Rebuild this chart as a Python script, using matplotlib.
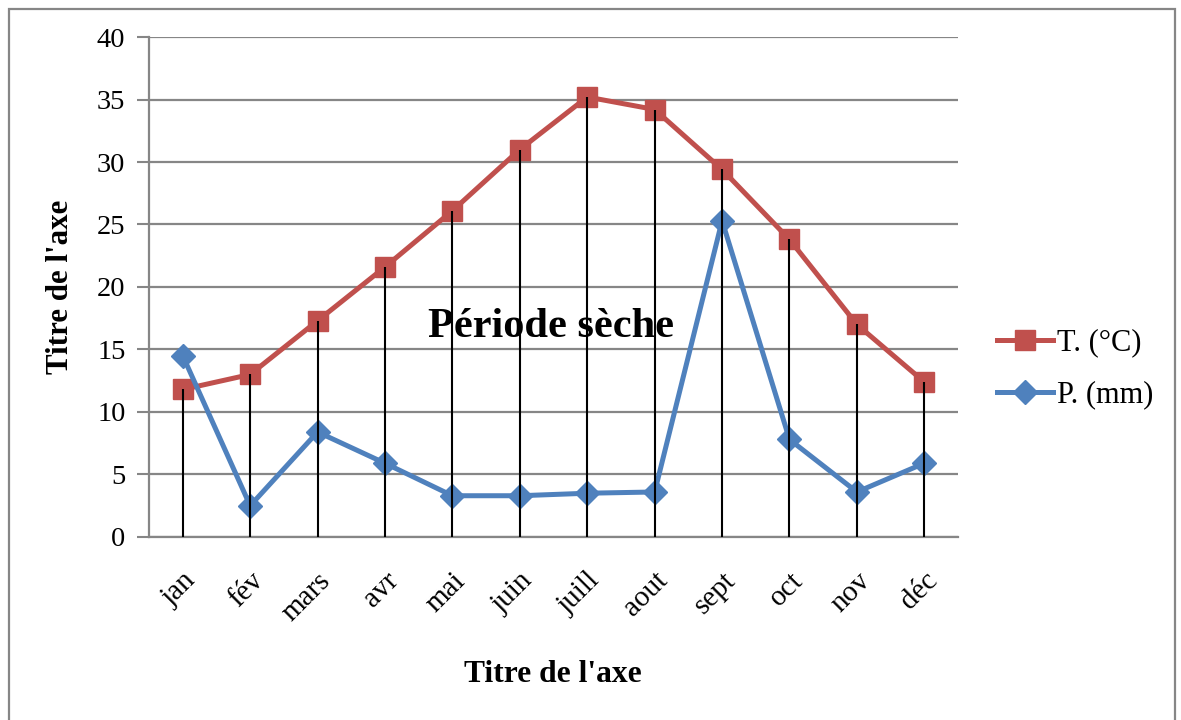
import matplotlib
matplotlib.use('Agg')
import matplotlib.pyplot as plt
from matplotlib.patches import Rectangle

# data
mois = ['jan', 'fév', 'mars', 'avr', 'mai', 'juin', 'juill', 'aout', 'sept', 'oct', 'nov', 'déc']
temp = [11.8, 13.0, 17.3, 21.6, 26.1, 31.0, 35.2, 34.2, 29.4, 23.8, 17.0, 12.4]
precip = [14.5, 2.5, 8.4, 5.9, 3.3, 3.3, 3.5, 3.6, 25.3, 7.8, 3.6, 5.9]
yticks = [0, 5, 10, 15, 20, 25, 30, 35, 40]

plt.rcParams['font.family'] = ['Liberation Serif', 'DejaVu Serif']

red = '#C0504D'
blue = '#4F81BD'
grid = '#868686'

fig = plt.figure(figsize=(11.81, 7.2), dpi=100)
ax = fig.add_axes([0.1262, 0.2542, 0.6850, 0.6944])

x = list(range(len(mois)))

ax.plot(x, temp, color=red, linewidth=3.6, marker='s', markersize=14,
        label='T. (°C)', zorder=3)
ax.plot(x, precip, color=blue, linewidth=3.6, marker='D', markersize=12,
        label='P. (mm)', zorder=3)
# drop lines from the axis to the temperature curve
ax.vlines(x, 0, temp, color='black', linewidth=1.5, zorder=4)

ax.set_xlim(-0.5, len(mois) - 0.5)
ax.set_ylim(0, 40)
ax.set_yticks(yticks)
ax.set_yticklabels([str(v) for v in yticks], fontsize=20.5)
ax.set_xticks(x)
ax.set_xticklabels(mois, fontsize=21, rotation=45, ha='right', rotation_mode='anchor')
ax.tick_params(axis='x', length=0, pad=22)
ax.tick_params(axis='y', length=9, width=1.5, color=grid, pad=8)

ax.grid(axis='y', color=grid, linewidth=1.6, zorder=0)
ax.set_axisbelow(True)
for s in ['top', 'right']:
    ax.spines[s].set_visible(False)
for s in ['left', 'bottom']:
    ax.spines[s].set_color(grid)
    ax.spines[s].set_linewidth(1.6)

ax.text(5.46, 16.0, 'Période sèche', fontsize=30.5, fontweight='bold',
        ha='center', va='baseline', zorder=3.5)

fig.text(553 / 1181, 1 - 675 / 720, "Titre de l'axe", fontsize=22.7, fontweight='bold',
         ha='center', va='center')
fig.text(61 / 1181, 1 - 287 / 720, "Titre de l'axe", fontsize=22.3, fontweight='bold',
         ha='center', va='center', rotation=90)

ax.legend(loc='center left', bbox_to_anchor=(1.048, 0.336), frameon=False,
          fontsize=22, handlelength=1.83, handletextpad=0.13, labelspacing=0.75,
          borderpad=0, borderaxespad=0)

# chart frame
fig.patches.append(Rectangle((9 / 1181, -0.05), (1175 - 9) / 1181, 1.05 - 9 / 720,
                             transform=fig.transFigure, fill=False,
                             edgecolor=grid, linewidth=1.6))

plt.savefig('out.png', dpi=100)
